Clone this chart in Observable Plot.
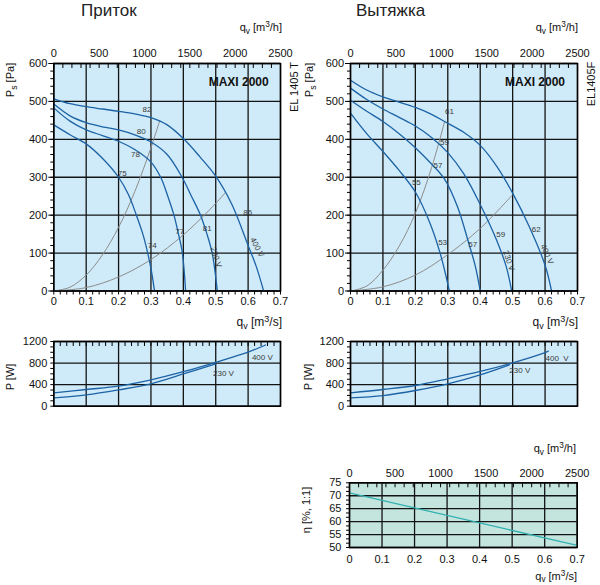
<!DOCTYPE html>
<html><head><meta charset="utf-8">
<script src="https://cdn.jsdelivr.net/npm/d3@7"></script>
<script src="https://cdn.jsdelivr.net/npm/@observablehq/plot@0.6"></script>
<style>
html,body{margin:0;padding:0;background:#fff;}
#root{position:relative;width:600px;height:585px;overflow:hidden;font-family:"Liberation Sans",Arial,sans-serif;}
#root svg{position:absolute;left:0;top:0;}
</style></head><body><div id="root"></div>
<script>
// ---------- axis ticks ----------
const qTicks = [0, 0.1, 0.2, 0.3, 0.4, 0.5, 0.6, 0.7];
const qTickLabels = ["0", "0.1", "0.2", "0.3", "0.4", "0.5", "0.6", "0.7"];
const qhTicks = [0, 500, 1000, 1500, 2000, 2500];
const psTicks = [0, 100, 200, 300, 400, 500, 600];
const pwTicks = [0, 400, 800, 1200];
const etaTicks = [50, 55, 60, 65, 70, 75];
const Q_MAX = 0.7, QH_MAX = 2500;
const qMinor = d3.range(0, 0.7001, 0.02);
const qhMinor = d3.range(0, 2501, 100);
const psMinor = d3.range(0, 601, 20);
const pwMinor = d3.range(0, 1201, 100);
const etaMinor = d3.range(50, 75.01, 5 / 3);

// ---------- Приток (supply): fan curves [q m3/s, Ps Pa] ----------
const supply400 = [[0,507],[0.05,494],[0.1,486],[0.15,480],[0.2,474],[0.25,467],[0.3,457],[0.35,438],[0.4,402],[0.45,355],[0.5,303],[0.55,228],[0.6,120],[0.625,65],[0.648,0]];
const supply230 = [[0,493],[0.05,462],[0.1,444],[0.15,433],[0.2,425],[0.25,412],[0.3,393],[0.35,360],[0.396,300],[0.425,250],[0.453,200],[0.473,150],[0.489,100],[0.505,0]];
const supplyMid = [[0,483],[0.05,448],[0.1,425],[0.15,410],[0.2,395],[0.25,373],[0.3,340],[0.33,300],[0.352,250],[0.371,200],[0.385,150],[0.397,100],[0.407,0]];
const supplyLow = [[0,438],[0.05,412],[0.1,388],[0.15,350],[0.2,300],[0.23,255],[0.255,200],[0.275,150],[0.29,100],[0.302,50],[0.311,0]];
const supplySysHigh = [[0,0],[0.05,10],[0.1,42],[0.15,95],[0.2,168],[0.25,262],[0.3,378],[0.327,449]];
const supplySysLow = [[0,0],[0.1,9],[0.2,37],[0.3,83],[0.4,148],[0.5,231],[0.53,260]];
const supplyNoise = [[0.288,480,"82"],[0.270,422,"80"],[0.252,360,"78"],[0.211,310,"75"],[0.304,120,"74"],[0.389,156,"77"],[0.474,165,"81"],[0.599,207,"86"]];
const supplyVolt = [[0.501,89,"230 V",72],[0.628,115,"400 V",62]];
const supplyPow400 = [[0,248],[0.1,310],[0.2,372],[0.3,489],[0.4,640],[0.5,815],[0.6,1003],[0.654,1135]];
const supplyPow230 = [[0,155],[0.1,210],[0.2,303],[0.3,415],[0.4,598],[0.5,786]];
const supplyPowLabels = [[0.644,900,"400 V"],[0.524,603,"230 V"]];

// ---------- Вытяжка (exhaust) ----------
const exhaust400 = [[0,556],[0.05,530],[0.1,512],[0.15,498],[0.2,484],[0.25,466],[0.29,447],[0.35,418],[0.4,384],[0.45,330],[0.5,258],[0.55,172],[0.6,68],[0.62,0]];
const exhaust230 = [[0,535],[0.05,505],[0.1,480],[0.15,458],[0.2,435],[0.25,405],[0.3,365],[0.35,308],[0.4,228],[0.45,135],[0.48,65],[0.497,0]];
const exhaustMid = [[0,503],[0.05,474],[0.1,447],[0.15,415],[0.2,378],[0.25,335],[0.29,295],[0.33,222],[0.364,128],[0.385,65],[0.4,0]];
const exhaustLow = [[0,469],[0.05,415],[0.1,368],[0.15,318],[0.2,261],[0.246,177],[0.277,98],[0.305,0]];
const exhaustSysHigh = [[0,0],[0.05,13],[0.1,55],[0.15,118],[0.2,205],[0.25,325],[0.29,446]];
const exhaustSysLow = [[0,0],[0.1,11],[0.2,42],[0.3,96],[0.4,165],[0.5,254]];
const exhaustNoise = [[0.305,473,"61"],[0.29,391,"59"],[0.27,331,"57"],[0.203,286,"55"],[0.284,128,"53"],[0.377,122,"57"],[0.463,148,"59"],[0.573,163,"62"]];
const exhaustVolt = [[0.488,80,"230 V",72],[0.606,97,"400 V",65]];
const exhaustPow400 = [[0,248],[0.1,310],[0.2,384],[0.3,508],[0.4,644],[0.5,805],[0.6,995],[0.61,1020]];
const exhaustPow230 = [[0,155],[0.1,198],[0.2,291],[0.3,415],[0.4,582],[0.49,768]];
const exhaustPowLabels = [[0.637,893,"400  V"],[0.522,664,"230 V"]];
const exhaustEta = [[0,71.1],[0.2,65.3],[0.4,59.5],[0.7,50.8]];

// ---------- styling ----------
const FONT = "Liberation Sans, Arial, sans-serif";
const BLUE = "#1c63a6", GREY = "#8c8c8c", INK = "#111", GRID = "#141414";
const BG = "#cfeaf8", BG_ETA = "#c4e5de", TEAL = "#33b0b2";
const root = document.getElementById("root");
const xy = {x: d => d[0], y: d => d[1]};
const toQ = h => h / QH_MAX * Q_MAX;

function panel(box, yDomain, marks) {
  const [l, r, t, b] = box;
  const svg = Plot.plot({
    width: 600, height: 585,
    marginLeft: l, marginRight: 600 - r, marginTop: t, marginBottom: 585 - b,
    x: {domain: [0, Q_MAX]},
    y: {domain: yDomain},
    style: {background: "transparent", fontFamily: FONT, overflow: "visible"},
    marks
  });
  root.appendChild(svg);
}
const blank = () => "";
const lines = (arr, stroke, w) => arr.map(c => Plot.line(c, {...xy, stroke, strokeWidth: w, curve: "catmull-rom"}));

function mainMarks(fans, systems, noise, volt) {
  return [
    Plot.frame({fill: BG, stroke: null}),
    Plot.ruleX(qTicks, {stroke: GRID, strokeWidth: 1.3}),
    Plot.ruleY(psTicks, {stroke: GRID, strokeWidth: 1.3}),
    ...lines(systems, GREY, 1),
    ...lines(fans, BLUE, 1.3),
    Plot.text(noise, {x: d => d[0], y: d => d[1], text: d => d[2], fontSize: 8, fill: "#3a3a3a"}),
    Plot.text(volt, {x: d => d[0], y: d => d[1], text: d => d[2], rotate: d => d[3], fontSize: 8, fill: "#3a3a3a"}),
    Plot.frame({stroke: "#000", strokeWidth: 1.5}),
    Plot.axisX({anchor: "top", ticks: qhMinor.map(toQ), tickSize: -4, tickFormat: blank, label: null}),
    Plot.axisX({anchor: "bottom", ticks: qMinor, tickSize: 4, tickFormat: blank, label: null}),
    Plot.axisY({anchor: "left", ticks: psMinor, tickSize: 3, tickFormat: blank, label: null}),
    Plot.axisY({anchor: "left", ticks: psTicks, tickSize: 5, tickFormat: blank, label: null}),
    Plot.text(qhTicks, {x: toQ, text: h => String(h), frameAnchor: "top", dy: -14, fontSize: 11, fill: INK}),
    Plot.text(qTicks, {x: q => q, text: (q, i) => qTickLabels[i], frameAnchor: "bottom", dy: 14, fontSize: 11, fill: INK}),
    Plot.text(psTicks, {y: p => p, text: p => String(p), frameAnchor: "left", textAnchor: "end", dx: -6.5, fontSize: 11, fill: INK})
  ];
}
function powerMarks(curves, labels) {
  return [
    Plot.frame({fill: BG, stroke: null}),
    Plot.ruleX(qTicks, {stroke: GRID, strokeWidth: 1.3}),
    Plot.ruleY(pwTicks, {stroke: GRID, strokeWidth: 1.3}),
    ...lines(curves, BLUE, 1.3),
    Plot.text(labels, {x: d => d[0], y: d => d[1], text: d => d[2], fontSize: 8, fill: "#3a3a3a"}),
    Plot.frame({stroke: "#000", strokeWidth: 1.5}),
    Plot.axisX({anchor: "top", ticks: qMinor, tickSize: -4, tickFormat: blank, label: null}),
    Plot.axisY({anchor: "left", ticks: pwMinor, tickSize: 3, tickFormat: blank, label: null}),
    Plot.text(pwTicks, {y: p => p, text: p => String(p), frameAnchor: "left", textAnchor: "end", dx: -6.5, fontSize: 11, fill: INK})
  ];
}

// Supply
panel([53.3, 280, 63, 290.5], [0, 600], mainMarks([supply400, supply230, supplyMid, supplyLow], [supplySysHigh, supplySysLow], supplyNoise, supplyVolt));
panel([53.3, 280, 341, 405.7], [0, 1200], powerMarks([supplyPow400, supplyPow230], supplyPowLabels));
// Exhaust
panel([350, 577, 63, 290.5], [0, 600], mainMarks([exhaust400, exhaust230, exhaustMid, exhaustLow], [exhaustSysHigh, exhaustSysLow], exhaustNoise, exhaustVolt));
panel([350, 577, 341, 405.7], [0, 1200], powerMarks([exhaustPow400, exhaustPow230], exhaustPowLabels));
// Efficiency
panel([349, 576.7, 482.3, 547], [50, 75], [
  Plot.frame({fill: BG_ETA, stroke: null}),
  Plot.ruleX(qTicks, {stroke: GRID, strokeWidth: 1.3}),
  Plot.ruleY(etaTicks, {stroke: GRID, strokeWidth: 1.3}),
  Plot.line(exhaustEta, {...xy, stroke: TEAL, strokeWidth: 1.3}),
  Plot.frame({stroke: "#000", strokeWidth: 1.5}),
  Plot.axisX({anchor: "top", ticks: qhMinor.map(toQ), tickSize: -4, tickFormat: blank, label: null}),
  Plot.axisY({anchor: "left", ticks: etaMinor, tickSize: 3, tickFormat: blank, label: null}),
  Plot.text(qhTicks, {x: toQ, text: h => String(h), frameAnchor: "top", dy: -13.5, fontSize: 11, fill: INK}),
  Plot.text(qTicks, {x: q => q, text: (q, i) => qTickLabels[i], frameAnchor: "bottom", dy: 15, fontSize: 11, fill: INK}),
  Plot.text(etaTicks, {y: p => p, text: p => String(p), frameAnchor: "left", textAnchor: "end", dx: -8, fontSize: 11, fill: INK})
]);

// ---------- titles & axis names ----------
const ov = d3.select(root).append("svg").attr("width", 600).attr("height", 585).attr("font-family", FONT);
function label(x, y, parts, {size = 11, anchor = "start", rotate = 0, weight = "normal", fill = INK} = {}) {
  const t = ov.append("text").attr("transform", `translate(${x},${y}) rotate(${rotate})`)
    .attr("text-anchor", anchor).attr("font-size", size).attr("font-weight", weight).attr("fill", fill);
  let prev = 0;
  for (const p of parts) {
    const [s, shift = 0, scale = 1] = typeof p === "string" ? [p] : p;
    t.append("tspan").attr("dy", shift - prev).attr("font-size", size * scale).text(s);
    prev = shift;
  }
}
const qh = ["q", ["v", 3, 0.75], [" [m", 0], ["3", -4.5, 0.75], ["/h]", 0]];
const qs = ["q", ["v", 3, 0.75], [" [m", 0], ["3", -4.5, 0.75], ["/s]", 0]];
const qsSmall = ["q", ["v", 2, 0.75], [" [m", 0], ["3", -4, 0.75], ["/s]", 0]];
const ps = ["P", ["s", 3, 0.8], [" [Pa]", 0]];

label(81, 16, ["Приток"], {size: 17, fill: "#222"});
label(356, 16, ["Вытяжка"], {size: 17, fill: "#222"});
label(282, 31, qh, {anchor: "end"});
label(578, 31, qh, {anchor: "end"});
label(282, 326, qs, {anchor: "end", size: 12});
label(578, 326, qs, {anchor: "end", size: 12});
label(14, 80, ps, {anchor: "middle", rotate: -90});
label(313, 80, ps, {anchor: "middle", rotate: -90});
label(238.7, 86, ["MAXI 2000"], {anchor: "middle", size: 12, weight: "bold"});
label(535, 86, ["MAXI 2000"], {anchor: "middle", size: 12, weight: "bold"});
label(297.5, 87, ["EL 1405 T"], {anchor: "middle", rotate: -90});
label(595, 84, ["EL1405F"], {anchor: "middle", rotate: -90});
label(14, 377, ["P [W]"], {anchor: "middle", rotate: -90});
label(312, 377, ["P [W]"], {anchor: "middle", rotate: -90});
label(576, 452, qh, {anchor: "end"});
label(577, 580, qsSmall, {anchor: "end", size: 11});
label(310, 510, ["η  [%, 1:1]"], {anchor: "middle", rotate: -90});
</script></body></html>
